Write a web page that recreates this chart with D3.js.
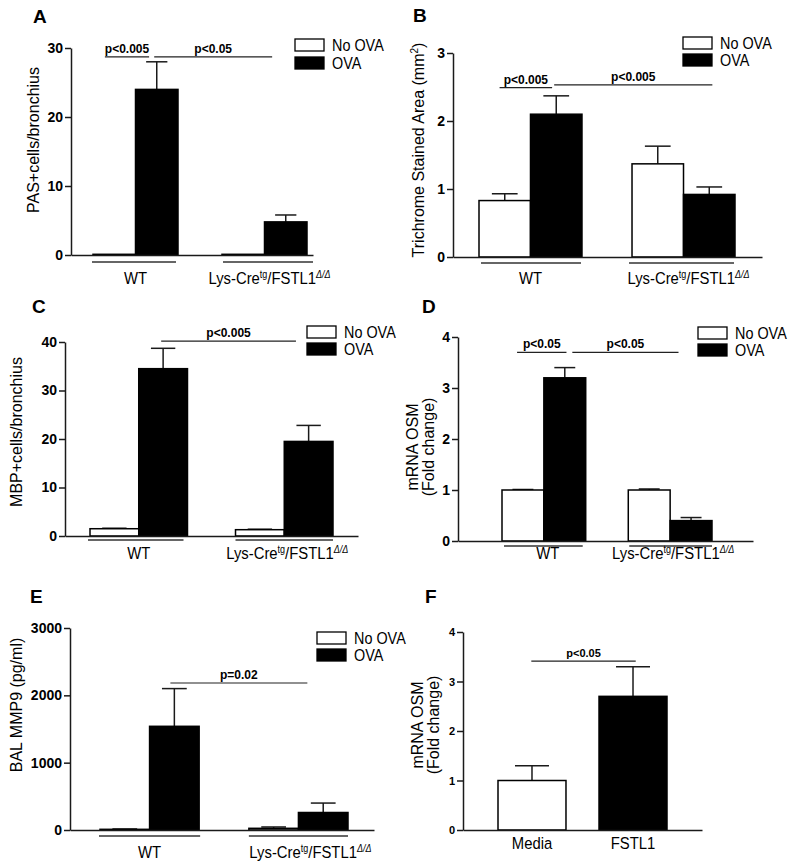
<!DOCTYPE html>
<html>
<head>
<meta charset="utf-8">
<script src="https://cdn.jsdelivr.net/npm/d3@7"></script>
<style>
  body { margin: 0; background: #fff; }
  svg { display: block; }
  text { font-family: "Liberation Sans", Arial, sans-serif; fill: #000; }
</style>
</head>
<body>
<svg id="chart" width="800" height="864"></svg>
<script>
// ---------------- DATA ----------------
const groups = ["WT", "LYS"];           // LYS = Lys-Cre^tg/FSTL1^Δ/Δ
const series = ["No OVA", "OVA"];

// Panel A: PAS+cells/bronchius
const aNoOva = [0.1, 0.1];   const aNoOvaErr = [0, 0];
const aOva   = [24, 4.8];    const aOvaErr   = [4.0, 1.0];
const aTicks = [0, 10, 20, 30];

// Panel B: Trichrome stained area (mm2)
const bNoOva = [0.83, 1.37]; const bNoOvaErr = [0.10, 0.26];
const bOva   = [2.10, 0.92]; const bOvaErr   = [0.27, 0.11];
const bTicks = [0, 1, 2, 3];

// Panel C: MBP+cells/bronchius
const cNoOva = [1.5, 1.3];   const cNoOvaErr = [0.1, 0.1];
const cOva   = [34.5, 19.5]; const cOvaErr   = [4.2, 3.3];
const cTicks = [0, 10, 20, 30, 40];

// Panel D: mRNA OSM (fold change)
const dNoOva = [1.0, 1.0];   const dNoOvaErr = [0.01, 0.02];
const dOva   = [3.2, 0.4];   const dOvaErr   = [0.2, 0.06];
const dTicks = [0, 1, 2, 3, 4];

// Panel E: BAL MMP9 (pg/ml)
const eNoOva = [10, 25];     const eNoOvaErr = [5, 20];
const eOva   = [1540, 260];  const eOvaErr   = [560, 140];
const eTicks = [0, 1000, 2000, 3000];

// Panel F: mRNA OSM (fold change), Media vs FSTL1
const fCategories = ["Media", "FSTL1"];
const fValues = [1.0, 2.7];
const fErr    = [0.3, 0.6];
const fTicks  = [0, 1, 2, 3, 4];

// Significance annotations: [groupIndex, fraction of group band], y in data units
const aSig = [
  { label: "p<0.005", from: [0, 0.14], to: [0, 0.66], y: 28.7 },
  { label: "p<0.05",  from: [0, 0.72], to: [1, 0.59], y: 28.7 }
];
const bSig = [
  { label: "p<0.005", from: [0, 0.20], to: [0, 0.71], y: 2.49 },
  { label: "p<0.005", from: [0, 0.73], to: [1, 0.78], y: 2.53 }
];
const cSig = [
  { label: "p<0.005", from: [0, 0.73], to: [1, 0.62], y: 40.2 }
];
const dSig = [
  { label: "p<0.05", from: [0, 0.18], to: [0, 0.77], y: 3.7 },
  { label: "p<0.05", from: [0, 0.84], to: [1, 0.60], y: 3.7 }
];
const eSig = [
  { label: "p=0.02", from: [0, 0.71], to: [1, 0.59], y: 2183 }
];
const fSig = [
  { label: "p<0.05", from: [0, 0.49], to: [1, 0.54], y: 3.41 }
];

// ---------------- DRAW ----------------
const svg = d3.select("#chart");
const AX = "#1a1a1a";
const SQ = 0.9;  // horizontal squeeze of the original figure's lettering

function groupLabel(sel, g) {
  if (g === "LYS") {
    sel.append("tspan").text("Lys-Cre");
    sel.append("tspan").attr("font-size", 10).attr("dy", -6).text("tg");
    sel.append("tspan").attr("dy", 6).text("/FSTL1");
    sel.append("tspan").attr("font-size", 10).attr("font-style", "italic").attr("dy", -6).text("Δ/Δ");
    return;
  }
  sel.text(g);
}

function drawPanel(cfg) {
  const g = svg.append("g");
  const y = d3.scaleLinear().domain([0, cfg.max]).range([cfg.y0, cfg.yTop]);
  const xg = d3.scaleBand().domain(cfg.cats).range(cfg.barRange).paddingInner(cfg.pad).paddingOuter(0);
  const xs = d3.scaleBand().domain(cfg.sub).range([0, xg.bandwidth()]).padding(0);

  const rows = [];
  cfg.cats.forEach((c, i) => {
    cfg.sub.forEach((s, j) => {
      rows.push({ c, s, v: cfg.values[j][i], e: cfg.errs[j][i], fill: cfg.fill(i, j) });
    });
  });
  const bw = xs.bandwidth();
  // error bars (upper only)
  const eg = g.append("g");
  rows.forEach(r => {
    const cx = xg(r.c) + xs(r.s) + bw / 2;
    if (r.e > 0) {
      eg.append("line").attr("x1", cx).attr("x2", cx).attr("y1", y(r.v)).attr("y2", y(r.v + r.e))
        .attr("stroke", AX).attr("stroke-width", 1.5);
      eg.append("line").attr("x1", cx - bw * 0.25).attr("x2", cx + bw * 0.25)
        .attr("y1", y(r.v + r.e)).attr("y2", y(r.v + r.e))
        .attr("stroke", AX).attr("stroke-width", 1.5);
    }
  });
  g.append("g").selectAll("rect").data(rows).join("rect")
    .attr("x", d => xg(d.c) + xs(d.s))
    .attr("width", bw)
    .attr("y", d => y(d.v))
    .attr("height", d => y(0) - y(d.v))
    .attr("fill", d => d.fill)
    .attr("stroke", "#000").attr("stroke-width", 1.5);

  // y axis
  const yAxis = d3.axisLeft(y).tickValues(cfg.ticks).tickFormat(d3.format("d"))
    .tickSize(6).tickSizeOuter(0).tickPadding(2);
  const ya = g.append("g").attr("transform", `translate(${cfg.x0},0)`).call(yAxis);
  ya.select(".domain").attr("stroke", AX).attr("stroke-width", 1.5);
  ya.selectAll(".tick line").attr("stroke", AX).attr("stroke-width", 1.5);
  ya.selectAll(".tick text").attr("font-family", "Liberation Sans, Arial, sans-serif")
    .attr("font-weight", "bold").attr("font-size", cfg.tickFont).attr("fill", "#000");

  // x axis line
  const xAxisScale = d3.scaleLinear().domain([0, 1]).range([cfg.x0, cfg.x1]);
  const xa = g.append("g").attr("transform", `translate(0,${y(0)})`)
    .call(d3.axisBottom(xAxisScale).tickValues([]).tickSizeOuter(0));
  xa.select(".domain").attr("stroke", AX).attr("stroke-width", 1.5);

  // group underlines
  if (cfg.ulY) {
    cfg.cats.forEach((c, i) => {
      const ext = cfg.ulExt[i];
      g.append("line").attr("x1", xg(c) + ext[0]).attr("x2", xg(c) + xg.bandwidth() + ext[1])
        .attr("y1", cfg.ulY).attr("y2", cfg.ulY).attr("stroke", "#333").attr("stroke-width", 1.3);
    });
  }
  // category labels
  cfg.cats.forEach((c, i) => {
    const cx = xg(c) + xg.bandwidth() / 2 + (cfg.labDx ? cfg.labDx[i] : 0);
    const t = g.append("text").attr("transform", `translate(${cx},${cfg.labY}) scale(${SQ},1)`)
      .attr("text-anchor", "middle").attr("font-size", 16.5);
    groupLabel(t, c);
  });

  // significance lines
  cfg.sig.forEach(s => {
    const xA = xg(cfg.cats[s.from[0]]) + s.from[1] * xg.bandwidth();
    const xB = xg(cfg.cats[s.to[0]]) + s.to[1] * xg.bandwidth();
    g.append("line").attr("x1", xA).attr("x2", xB).attr("y1", y(s.y)).attr("y2", y(s.y))
      .attr("stroke", "#222").attr("stroke-width", 1.2);
    g.append("text").attr("x", (xA + xB) / 2).attr("y", y(s.y) - 4).attr("text-anchor", "middle")
      .attr("font-weight", "bold").attr("font-size", cfg.sigFont).text(s.label);
  });

  // y title
  cfg.title.forEach((line, k) => {
    const t = g.append("text")
      .attr("transform", `translate(${cfg.titleX[k]},${cfg.titleY}) rotate(-90)`)
      .attr("text-anchor", "middle").attr("font-size", cfg.titleFont);
    if (Array.isArray(line)) {
      t.append("tspan").text(line[0]);
      t.append("tspan").attr("font-size", 10).attr("dy", -6).text(line[1]);
      t.append("tspan").attr("dy", 6).text(line[2]);
    } else t.text(line);
  });

  // legend
  if (cfg.legend) {
    series.forEach((s, j) => {
      const ly = cfg.legend.y + j * cfg.legend.dy;
      g.append("rect").attr("x", cfg.legend.x).attr("y", ly).attr("width", 29).attr("height", 12)
        .attr("fill", cfg.fill(0, j)).attr("stroke", "#000").attr("stroke-width", 1.3);
      g.append("text").attr("transform", `translate(${cfg.legend.x + 37},${ly + 12}) scale(${SQ},1)`)
        .attr("font-size", 16).text(s);
    });
  }

  // panel letter
  g.append("text").attr("x", cfg.letterX).attr("y", cfg.letterY)
    .attr("font-family", "Lato, 'Open Sans', sans-serif").attr("font-weight", "bold")
    .attr("font-size", 19).text(cfg.letter);
}

const seriesFill = (i, j) => (j === 0 ? "#ffffff" : "#000000");
const catFill = (i, j) => (i === 0 ? "#ffffff" : "#000000");

drawPanel({
  letter: "A", letterX: 33, letterY: 23,
  x0: 71, x1: 313, y0: 255, yTop: 48, max: 30, ticks: aTicks, tickFont: 14,
  cats: groups, sub: series, barRange: [93, 307], pad: 0.341,
  values: [aNoOva, aOva], errs: [aNoOvaErr, aOvaErr], fill: seriesFill,
  ulY: 262, ulExt: [[-1, -2], [1, 6]], labY: 284, labDx: [0, 5],
  sig: aSig, sigFont: 12,
  title: ["PAS+cells/bronchius"], titleX: [38.5], titleY: 140, titleFont: 16,
  legend: { x: 295, y: 39, dy: 18 }
});

drawPanel({
  letter: "B", letterX: 413, letterY: 22,
  x0: 453, x1: 762, y0: 257, yTop: 53, max: 3, ticks: bTicks, tickFont: 14,
  cats: groups, sub: series, barRange: [479, 735], pad: 0.327,
  values: [bNoOva, bOva], errs: [bNoOvaErr, bOvaErr], fill: seriesFill,
  ulY: 263, ulExt: [[2, -1], [-3, -1]], labY: 284, labDx: [0, 5],
  sig: bSig, sigFont: 12,
  title: [["Trichrome Stained Area (mm", "2", ")"]], titleX: [423.5], titleY: 150, titleFont: 16,
  legend: { x: 683, y: 37, dy: 17 }
});

drawPanel({
  letter: "C", letterX: 32, letterY: 313,
  x0: 65, x1: 358, y0: 536, yTop: 342, max: 40, ticks: cTicks, tickFont: 14,
  cats: groups, sub: series, barRange: [90, 333], pad: 0.33,
  values: [cNoOva, cOva], errs: [cNoOvaErr, cOvaErr], fill: seriesFill,
  ulY: 540, ulExt: [[-2, -4], [0, 0]], labY: 559, labDx: [0, 3],
  sig: cSig, sigFont: 12,
  title: ["MBP+cells/bronchius"], titleX: [21.5], titleY: 432, titleFont: 16,
  legend: { x: 307, y: 326, dy: 17 }
});

drawPanel({
  letter: "D", letterX: 422, letterY: 313,
  x0: 458, x1: 753, y0: 541, yTop: 337, max: 4, ticks: dTicks, tickFont: 14,
  cats: groups, sub: series, barRange: [502, 712], pad: 0.337,
  values: [dNoOva, dOva], errs: [dNoOvaErr, dOvaErr], fill: seriesFill,
  ulY: 546, ulExt: [[2, -3], [1, 0]], labY: 559, labDx: [4, 3],
  sig: dSig, sigFont: 12,
  title: ["mRNA OSM", "(Fold change)"], titleX: [418, 434], titleY: 447, titleFont: 16,
  legend: { x: 698, y: 327, dy: 17 }
});

drawPanel({
  letter: "E", letterX: 30, letterY: 603,
  x0: 70, x1: 374, y0: 830, yTop: 628, max: 3000, ticks: eTicks, tickFont: 14,
  cats: groups, sub: series, barRange: [100, 348], pad: 0.334,
  values: [eNoOva, eOva], errs: [eNoOvaErr, eOvaErr], fill: seriesFill,
  ulY: 836, ulExt: [[-1, 1], [0, 0]], labY: 858, labDx: [0, 12],
  sig: eSig, sigFont: 12,
  title: ["BAL MMP9 (pg/ml)"], titleX: [21.5], titleY: 705, titleFont: 16,
  legend: { x: 317, y: 632, dy: 17 }
});

drawPanel({
  letter: "F", letterX: 425, letterY: 603,
  x0: 463, x1: 702, y0: 830, yTop: 632, max: 4, ticks: fTicks, tickFont: 11,
  cats: fCategories, sub: ["one"], barRange: [498, 667], pad: 0.327,
  values: [fValues], errs: [fErr], fill: catFill,
  ulY: null, labY: 849,
  sig: fSig, sigFont: 11,
  title: ["mRNA OSM", "(Fold change)"], titleX: [423, 439], titleY: 725, titleFont: 16,
  legend: null
});
</script>
</body>
</html>
